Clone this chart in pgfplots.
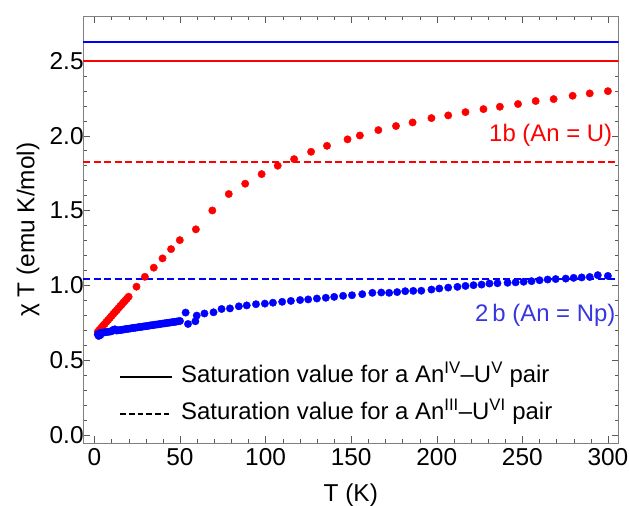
\documentclass[border=0pt]{standalone}
\usepackage{pgfplots}
\pgfplotsset{compat=1.18}
\usepackage{pgfplotstable}
\usepackage{fontspec}
\setmainfont{Liberation Sans}

% 1b (An = U)
\pgfplotstableread{
T chi
2 0.690
3 0.703
4 0.716
5 0.730
6 0.742
7 0.756
8 0.768
9 0.782
10 0.795
11 0.808
12 0.821
13 0.833
14 0.847
15 0.860
16 0.872
17 0.886
18 0.898
19 0.911
20 0.924
24.6 0.991
29.5 1.057
34.7 1.118
39.8 1.180
44.8 1.242
49.9 1.302
59.3 1.374
68.9 1.500
78.5 1.610
88.1 1.679
97.7 1.743
107.1 1.799
116.7 1.843
126.6 1.892
135.9 1.932
147.9 1.975
155.1 2.001
165.9 2.037
176.2 2.064
185.9 2.088
196.9 2.117
206.7 2.135
216.8 2.157
227.3 2.177
236.9 2.193
247.5 2.211
257.8 2.231
268.3 2.244
279.4 2.266
289.4 2.282
300.0 2.297
}\dataU

% 2b (An = Np)
\pgfplotstableread{
T chi
2 0.672
2.5 0.662
3 0.680
3.5 0.668
4 0.683
5 0.685
6 0.686
7 0.688
8 0.690
9 0.691
10 0.693
11 0.703
12 0.706
13 0.698
14 0.700
15 0.701
16 0.703
17 0.705
18 0.707
19 0.709
20 0.710
21 0.712
22 0.714
23 0.716
24 0.717
25 0.719
26 0.721
27 0.722
28 0.724
29 0.726
30 0.727
31 0.729
32 0.731
33 0.733
34 0.734
35 0.736
36 0.738
37 0.739
38 0.741
39 0.743
40 0.745
41 0.746
42 0.748
43 0.750
44 0.751
45 0.753
46 0.755
47 0.756
48 0.758
49 0.760
50 0.762
53.3 0.818
54.7 0.742
59.0 0.760
59.8 0.798
64.3 0.812
69.6 0.820
74.3 0.842
79.2 0.846
84.4 0.860
89.0 0.866
94.4 0.874
99.6 0.878
104.3 0.884
109.7 0.890
114.8 0.896
120.2 0.902
124.9 0.906
130.0 0.912
135.2 0.917
140.1 0.923
145.3 0.930
150.5 0.934
156.5 0.941
162.4 0.950
167.6 0.952
172.2 0.950
176.9 0.955
181.6 0.961
186.3 0.963
191.0 0.964
196.9 0.972
201.5 0.979
206.7 0.985
212.1 0.990
216.8 0.996
221.5 1.001
226.2 1.005
230.8 1.012
235.5 1.014
241.4 1.017
246.1 1.020
250.8 1.024
255.4 1.028
260.1 1.034
264.8 1.039
269.5 1.042
275.4 1.045
280.0 1.050
284.7 1.053
289.4 1.056
294.1 1.068
300.0 1.063
}\dataNp

\definecolor{ublue}{RGB}{0,0,255}
\definecolor{ured}{RGB}{255,0,0}
\definecolor{labelblue}{RGB}{55,55,225}

\begin{document}
\begin{tikzpicture}
\begin{axis}[
    name=ax,
    scale only axis,
    width=535.4bp, height=427.3bp,
    xmin=-6.6, xmax=306.2,
    ymin=-0.055, ymax=2.799,
    xtick={0,50,...,300},
    ytick={0,0.5,...,2.5},
    minor x tick num=4,
    minor y tick num=4,
    tick align=inside,
    major tick length=7bp,
    minor tick length=4bp,
    axis line style={black!50},
    tick style={black!65},
    /pgf/number format/assume math mode=true,
    yticklabel style={/pgf/number format/fixed, /pgf/number format/fixed zerofill, /pgf/number format/precision=1, xshift=4bp},
    xticklabel style={yshift=-2bp},
    tick label style={font=\fontsize{24.5}{26}\selectfont},
    label style={font=\fontsize{24.5}{26}\selectfont},
    xlabel={T (K)},
    ylabel={χ T (emu K/mol)},
    xlabel style={at={([yshift=-52bp]axis description cs:0.5,0)}, anchor=center},
    ylabel style={at={([xshift=-55bp]axis description cs:0,0.5)}, anchor=center},
    legend style={draw=none, fill=none, at={(axis cs:14.5,0.464)}, anchor=north west,
        font=\fontsize{24}{26}\selectfont, row sep=15bp, column sep=8bp, inner sep=0pt,
        nodes={inner sep=0pt, text height=17bp, text depth=5bp}},
    legend cell align=left,
    legend image code/.code={\draw[#1] (0bp,0bp) -- (52bp,0bp);},
]
% saturation values
\addplot[ublue, line width=2bp, forget plot] coordinates {(-6.6,2.622) (306.2,2.622)};
\addplot[ured, line width=2bp, forget plot] coordinates {(-6.6,2.50) (306.2,2.50)};
\addplot[ured, line width=2bp, dash pattern=on 7bp off 3.5bp, forget plot] coordinates {(-6.6,1.821) (306.2,1.821)};
\addplot[ublue, line width=2bp, dash pattern=on 7bp off 3.5bp, forget plot] coordinates {(-6.6,1.040) (306.2,1.040)};

% measured points
\addplot[only marks, mark=*, mark size=3.7bp, mark options={draw=ured, fill=ured}, forget plot] table[x=T, y=chi] {\dataU};
\addplot[only marks, mark=*, mark size=3.7bp, mark options={draw=ublue, fill=ublue}, forget plot] table[x=T, y=chi] {\dataNp};

\addlegendimage{black, line width=1.8bp}
\addlegendentry{Saturation value for a An\textsuperscript{IV}–U\textsuperscript{V} pair}
\addlegendimage{black, line width=1.6bp, dash pattern=on 5.5bp off 3.2bp}
\addlegendentry{Saturation value for a An\textsuperscript{III}–U\textsuperscript{VI} pair}

\node[anchor=east, ured, font=\fontsize{24}{26}\selectfont, inner sep=0pt] at (axis cs:302.6,2.0) {1b (An = U)};
\node[anchor=east, labelblue, font=\fontsize{24}{26}\selectfont, inner sep=0pt] at (axis cs:304.5,0.80) {2\,b (An = Np)};
\end{axis}
\pgfresetboundingbox
\path ([shift={(-83.1bp,-62.7bp)}]ax.south west) rectangle ([shift={(10.5bp,16bp)}]ax.north east);
\end{tikzpicture}
\end{document}
